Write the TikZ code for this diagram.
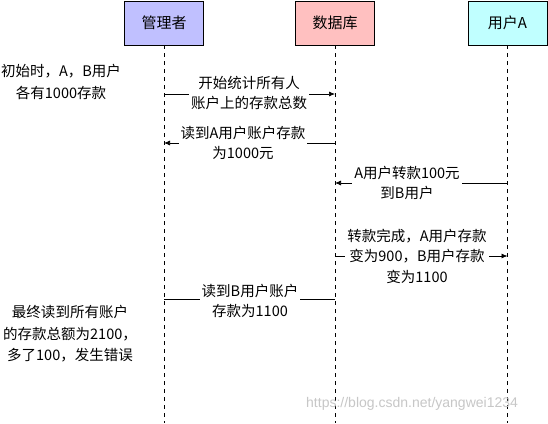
\documentclass[tikz,border=0pt]{standalone}
\usepackage{fontspec}
\setmainfont{Noto Sans CJK SC}
\newfontfamily\wmfont{Liberation Sans}
\usetikzlibrary{arrows.meta}
\definecolor{mgr}{HTML}{C0C0FF}
\definecolor{db}{HTML}{FFC0C0}
\definecolor{usr}{HTML}{C0FFFF}
\begin{document}
\begin{tikzpicture}[x=1pt,y=-1pt,
  actor/.style={draw=black, line width=0.8pt, minimum width=79pt, minimum height=44pt, inner sep=0pt, font=\fontsize{15}{18}\selectfont},
  life/.style={draw=black, line width=0.7pt, dash pattern=on 4pt off 4pt},
  msg/.style={draw=black, line width=0.7pt, -{Latex[length=6pt,width=5pt]}},
  plain/.style={draw=black, line width=0.7pt},
  lbl/.style={fill=white, inner sep=2pt, align=center, font=\fontsize{14.5}{20.5}\selectfont},
  note/.style={inner sep=0pt, align=center, font=\fontsize{14.5}{21.5}\selectfont},
  wm/.style={inner sep=0pt, text=black!22, font=\wmfont\fontsize{14}{17}\selectfont}]
\useasboundingbox (0,0) rectangle (548,423);
\fill[white] (0,0) rectangle (548,423);
% actors
\node[actor, fill=mgr] (m) at (164,23) {管理者};
\node[actor, fill=db] (d) at (335,23) {数据库};
\node[actor, fill=usr] (u) at (507.5,23) {用户A};
\coordinate (me) at (164,423);
\coordinate (de) at (335,423);
\coordinate (ue) at (507.5,423);
\draw[life] (m.south) -- (me);
\draw[life] (d.south) -- (de);
\draw[life] (u.south) -- (ue);
% message 1
\coordinate (m1a) at (164,94);
\coordinate (m1b) at (335,94);
\draw[msg] (m1a) -- (m1b);
\node[lbl] (t1) at (249,93) {开始统计所有人\\账户上的存款总数};
% message 2
\coordinate (m2a) at (335,143);
\coordinate (m2b) at (164,143);
\draw[msg] (m2a) -- (m2b);
\node[lbl] (t2) at (243,143) {读到A用户账户存款\\为1000元};
% message 3
\coordinate (m3a) at (507.5,183);
\coordinate (m3b) at (335,183);
\draw[msg] (m3a) -- (m3b);
\node[lbl] (t3) at (407,183) {A用户转款100元\\到B用户};
% message 4
\coordinate (m4a) at (335,256);
\coordinate (m4b) at (507.5,256);
\draw[msg] (m4a) -- (m4b);
\node[lbl] (t4) at (417,256) {转款完成，A用户存款\\变为900，B用户存款\\变为1100};
% message 5
\coordinate (m5a) at (335,299);
\coordinate (m5b) at (164,299);
\draw[plain] (m5a) -- (m5b);
\node[lbl] (t5) at (250,301) {读到B用户账户\\存款为1100};
% notes
\node[note] (n1) at (61,82) {初始时，A，B用户\\各有1000存款};
\node[note] (n2) at (70,334) {最终读到所有账户\\的存款总额为2100，\\多了100，发生错误};
% watermark
\node[wm, anchor=west] (w) at (306,404) {https://blog.csdn.net/yangwei1234};
\end{tikzpicture}
\end{document}
